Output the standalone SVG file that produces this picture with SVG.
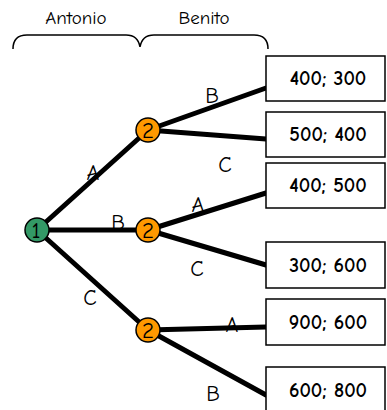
<svg xmlns="http://www.w3.org/2000/svg" width="387" height="410" viewBox="0 0 387 410">
<style>
text{font-family:"Comic Neue","DejaVu Sans","Liberation Sans",sans-serif;fill:#000}
.lbl{font-size:22px}
.hdr{font-size:19px}
.box rect{fill:#fff;stroke:#000;stroke-width:1.5}
.box text{font-size:20px;font-weight:bold;text-anchor:middle}
.edge{stroke:#000;stroke-width:5;stroke-linecap:round}
.brace{fill:none;stroke:#000;stroke-width:1.5}
.nd circle{stroke:#000;stroke-width:1.5}
.nd text{font-size:23px;text-anchor:middle}
</style>
<g id="header">
<text class="hdr" x="76" y="24" text-anchor="middle">Antonio</text>
<text class="hdr" x="204" y="24" text-anchor="middle">Benito</text>
<path class="brace" d="M13,49 Q13,35 27,35 H126 Q138,35 140,47 Q142,35 154,35 H254 Q268,35 268,49"/>
</g>
<g id="connectors">
<line class="edge" x1="37" y1="230" x2="148" y2="130"/>
<line class="edge" x1="37" y1="230" x2="148" y2="230"/>
<line class="edge" x1="37" y1="230" x2="148" y2="330"/>
<line class="edge" x1="148" y1="130" x2="266" y2="88"/>
<line class="edge" x1="148" y1="130" x2="266" y2="139"/>
<line class="edge" x1="148" y1="230" x2="266" y2="193"/>
<line class="edge" x1="148" y1="230" x2="266" y2="265"/>
<line class="edge" x1="148" y1="330" x2="266" y2="327"/>
<line class="edge" x1="148" y1="330" x2="266" y2="395"/>
</g>
<g id="edge-labels">
<text class="lbl" x="93" y="180" text-anchor="middle">A</text>
<text class="lbl" x="118" y="230" text-anchor="middle">B</text>
<text class="lbl" x="90" y="305" text-anchor="middle">C</text>
<text class="lbl" x="212" y="103" text-anchor="middle">B</text>
<text class="lbl" x="225" y="172" text-anchor="middle">C</text>
<text class="lbl" x="198" y="212" text-anchor="middle">A</text>
<text class="lbl" x="197" y="276" text-anchor="middle">C</text>
<text class="lbl" x="232" y="332" text-anchor="middle">A</text>
<text class="lbl" x="213" y="401" text-anchor="middle">B</text>
</g>
<g id="n1" class="nd"><circle cx="37" cy="230" r="12" fill="#339966"/><text x="36" y="238">1</text></g>
<g id="n2a" class="nd"><circle cx="148" cy="130" r="12" fill="#FF9900"/><text x="148" y="138">2</text></g>
<g id="n2b" class="nd"><circle cx="148" cy="230" r="12" fill="#FF9900"/><text x="148" y="238">2</text></g>
<g id="n2c" class="nd"><circle cx="148" cy="330" r="12" fill="#FF9900"/><text x="148" y="338">2</text></g>
<g id="p1" class="box"><rect x="266" y="56" width="119" height="45"/><text x="328" y="85">400; 300</text></g>
<g id="p2" class="box"><rect x="266" y="112" width="119" height="45"/><text x="328" y="141">500; 400</text></g>
<g id="p3" class="box"><rect x="266" y="163" width="119" height="45"/><text x="328" y="192">400; 500</text></g>
<g id="p4" class="box"><rect x="266" y="242" width="119" height="46"/><text x="328" y="272">300; 600</text></g>
<g id="p5" class="box"><rect x="266" y="299" width="119" height="46"/><text x="328" y="329">900; 600</text></g>
<g id="p6" class="box"><rect x="266" y="367" width="119" height="46"/><text x="328" y="397">600; 800</text></g>
</svg>
